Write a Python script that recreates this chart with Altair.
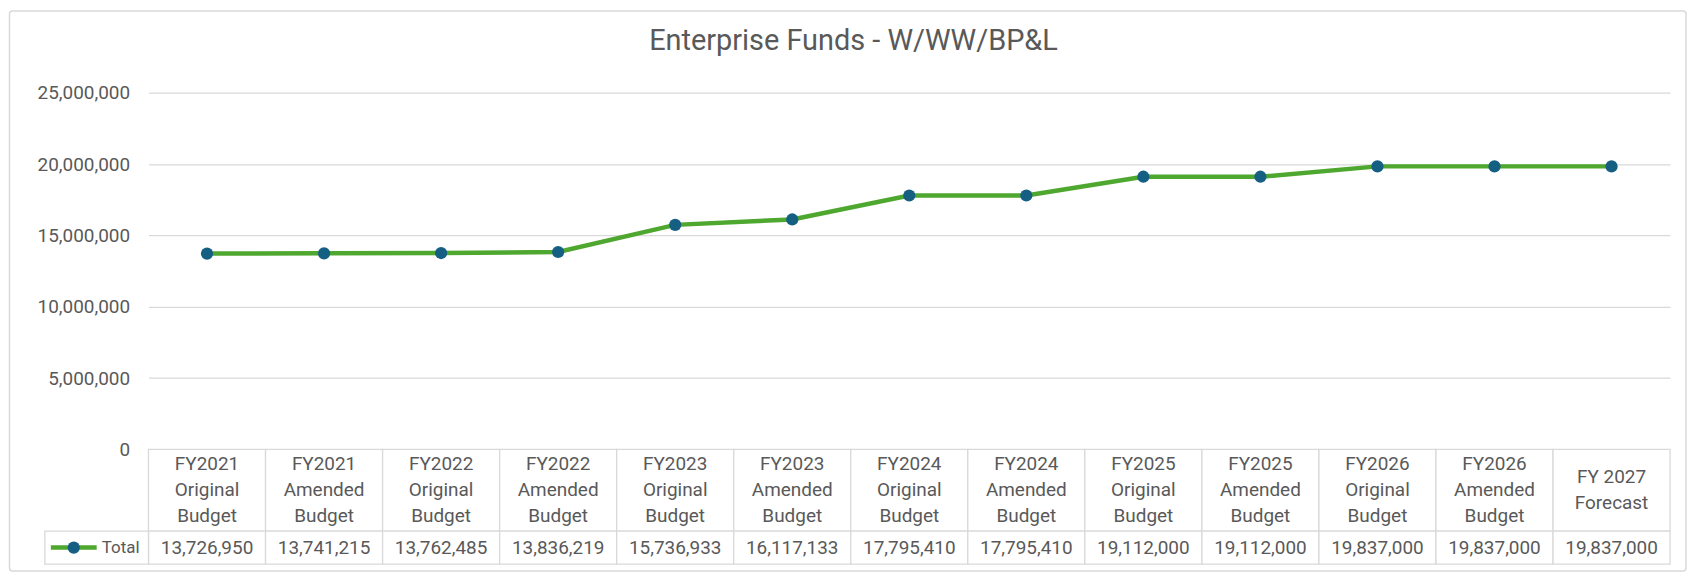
import altair as alt
import pandas as pd

categories = [
    "FY2021\nOriginal\nBudget", "FY2021\nAmended\nBudget",
    "FY2022\nOriginal\nBudget", "FY2022\nAmended\nBudget",
    "FY2023\nOriginal\nBudget", "FY2023\nAmended\nBudget",
    "FY2024\nOriginal\nBudget", "FY2024\nAmended\nBudget",
    "FY2025\nOriginal\nBudget", "FY2025\nAmended\nBudget",
    "FY2026\nOriginal\nBudget", "FY2026\nAmended\nBudget",
    "FY 2027\nForecast",
]
totals = [13726950, 13741215, 13762485, 13836219, 15736933, 16117133,
          17795410, 17795410, 19112000, 19112000, 19837000, 19837000, 19837000]
series_name = "Total"
title_text = "Enterprise Funds - W/WW/BP&L"
y_ticks = [0, 5000000, 10000000, 15000000, 20000000, 25000000]

FONT = "Roboto"
TXT = "#595959"
GRID = "#d9d9d9"
GREEN = "#4EA72E"
BLUE = "#156082"
W = 1527

df = pd.DataFrame({"category": categories, "value": totals})
leg = pd.DataFrame({"series": [series_name]})

# header lines, one row per text line of each category label
rows = []
for c in categories:
    parts = c.split("\n")
    n = len(parts)
    for i, p in enumerate(parts):
        rows.append({"category": c, "line": p, "pos": (n - 1) / 2 - i})
hdr_df = pd.DataFrame(rows)

xenc = alt.X("category:N",
             scale=alt.Scale(domain=categories, paddingInner=0, paddingOuter=0),
             axis=None)

yaxis = alt.Axis(values=y_ticks, format=",.0f", title=None, ticks=False, domain=False,
                 labelPadding=19, labelFontSize=19, labelFont=FONT, labelColor=TXT,
                 gridColor=GRID, gridWidth=1.3)

top = alt.Chart(df).mark_line(
    color=GREEN, strokeWidth=4.5,
    point=alt.OverlayMarkDef(color=BLUE, size=150, filled=True, opacity=1),
).encode(
    x=xenc,
    y=alt.Y("value:Q", scale=alt.Scale(domain=[0, 25000000], nice=False), axis=yaxis),
).properties(
    width=W, height=358,
    title=alt.TitleParams(title_text, fontSize=29, font=FONT, fontWeight="normal",
                          color=TXT, anchor="middle", frame="bounds", offset=28),
)

cell_style = dict(fill="white", stroke=GRID, strokeWidth=1.3)
text_style = dict(font=FONT, fontSize=19, color=TXT, baseline="middle", align="center")

hdr_rect = alt.Chart(df).mark_rect(**cell_style).encode(x=xenc)
hdr_text = alt.Chart(hdr_df).mark_text(**text_style).encode(
    x=xenc,
    y=alt.Y("pos:Q", scale=alt.Scale(domain=[-1.58, 1.58], nice=False, zero=False),
            axis=None),
    text="line:N",
)
header = alt.layer(hdr_rect, hdr_text).properties(width=W, height=82)

val_rect = alt.Chart(df).mark_rect(**cell_style).encode(x=xenc)
val_text = alt.Chart(df).mark_text(**text_style).encode(
    x=xenc, text=alt.Text("value:Q", format=",")
)
leg_cell = alt.Chart(leg).mark_rect(**cell_style).encode(
    x=alt.value(-104), x2=alt.value(0), y=alt.value(0), y2=alt.value(33)
)
leg_line = alt.Chart(leg).mark_rule(color=GREEN, strokeWidth=4.5).encode(
    x=alt.value(-98), x2=alt.value(-52), y=alt.value(16.5)
)
leg_dot = alt.Chart(leg).mark_circle(color=BLUE, size=150, opacity=1).encode(
    x=alt.value(-75), y=alt.value(16.5)
)
leg_text = alt.Chart(leg).mark_text(font=FONT, fontSize=17, color=TXT, baseline="middle",
                                    align="right").encode(
    x=alt.value(-9), y=alt.value(16.5), text="series:N"
)
frame = alt.Chart(leg).mark_rect(fillOpacity=0, stroke=GRID, strokeWidth=1.5,
                                 cornerRadius=3).encode(
    x=alt.value(-139.5), x2=alt.value(1543), y=alt.value(-522), y2=alt.value(40)
)
values = alt.layer(val_rect, val_text, leg_cell, leg_line, leg_dot, leg_text, frame).properties(
    width=W, height=33
)

chart = alt.vconcat(top, header, values, spacing=0, bounds="flush").properties(
    padding=0, background="white"
).configure_view(stroke="transparent")

chart.save("out.html", embed_options={"renderer": "svg", "actions": False})
